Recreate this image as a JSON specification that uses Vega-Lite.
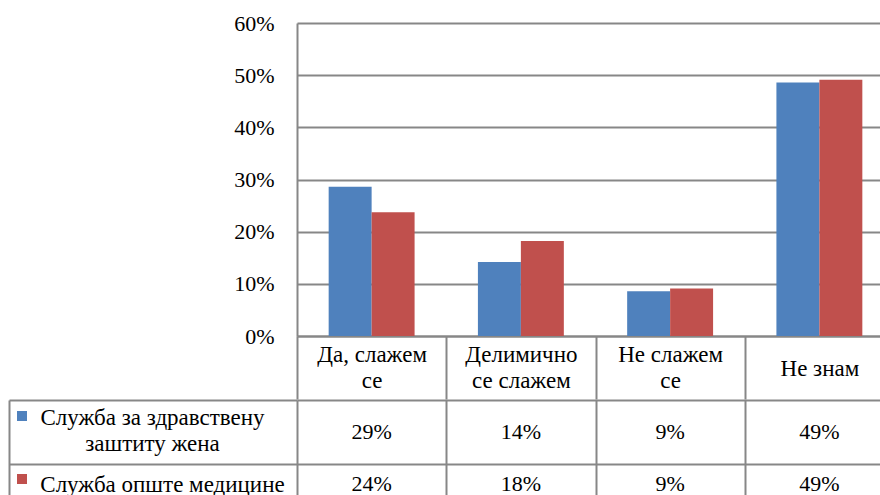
{
  "$schema": "https://vega.github.io/schema/vega-lite/v6.json",
  "padding": {"left": 8, "top": 12, "right": 0, "bottom": 0},
  "background": "white",
  "config": {
    "font": "Liberation Serif, Times New Roman, DejaVu Serif, serif",
    "view": {"stroke": null},
    "axis": {"labelFont": "Liberation Serif, Times New Roman, DejaVu Serif, serif", "labelColor": "#000000", "labelFontSize": 22, "labelOverlap": false, "labelBound": false, "labelLimit": 0}
  },
  "data": {
    "values": [
      {"category": "Да, слажем се", "series": "Служба за здравствену заштиту жена", "value": 0.286},
      {"category": "Да, слажем се", "series": "Служба опште медицине", "value": 0.237},
      {"category": "Делимично се слажем", "series": "Служба за здравствену заштиту жена", "value": 0.142},
      {"category": "Делимично се слажем", "series": "Служба опште медицине", "value": 0.182},
      {"category": "Не слажем се", "series": "Служба за здравствену заштиту жена", "value": 0.086},
      {"category": "Не слажем се", "series": "Служба опште медицине", "value": 0.091},
      {"category": "Не знам", "series": "Служба за здравствену заштиту жена", "value": 0.486},
      {"category": "Не знам", "series": "Служба опште медицине", "value": 0.491}
    ]
  },
  "spacing": -11,
  "resolve": {"scale": {"x": "independent", "y": "independent"}},
  "vconcat": [
    {
      "width": 597,
      "height": 313,
      "mark": {"type": "bar"},
      "encoding": {
        "x": {
          "field": "category", "type": "nominal",
          "sort": ["Да, слажем се", "Делимично се слажем", "Не слажем се", "Не знам"],
          "scale": {"paddingInner": 0, "paddingOuter": 0},
          "axis": {
            "orient": "bottom", "title": null, "labelAngle": 0, "labelFontSize": 23,
            "domainColor": "#878787", "domainWidth": 2,
            "ticks": true, "tickBand": "extent", "tickSize": 63, "tickColor": "#878787", "tickWidth": 2,
            "labelBaseline": "middle", "labelLineHeight": 26,
            "labelPadding": {"condition": {"test": "datum.value == 'Не знам'", "value": -31}, "value": -45},
            "labelExpr": "datum.label == 'Да, слажем се' ? ['Да, слажем', 'се'] : datum.label == 'Делимично се слажем' ? ['Делимично', 'се слажем'] : datum.label == 'Не слажем се' ? ['Не слажем', 'се'] : datum.label",
            "grid": false
          }
        },
        "xOffset": {"field": "series", "type": "nominal", "sort": ["Служба за здравствену заштиту жена", "Служба опште медицине"], "scale": {"paddingInner": 0, "paddingOuter": 0.737}},
        "y": {
          "field": "value", "type": "quantitative",
          "scale": {"domain": [0, 0.6]},
          "axis": {
            "title": null, "values": [0, 0.1, 0.2, 0.3, 0.4, 0.5, 0.6], "format": ".0%",
            "ticks": false, "labelPadding": 23,
            "domainColor": "#878787", "domainWidth": 2,
            "grid": true, "gridColor": "#878787", "gridWidth": 2
          }
        },
        "color": {
          "field": "series", "type": "nominal",
          "sort": ["Служба за здравствену заштиту жена", "Служба опште медицине"],
          "scale": {"range": ["#4F81BD", "#C0504D"]},
          "legend": {
            "orient": "none", "legendX": -280, "legendY": 388, "direction": "vertical",
            "title": null, "symbolType": "square", "symbolSize": 100, "symbolStrokeWidth": 0,
            "labelExpr": "''", "labelFontSize": 10, "rowPadding": 53
          }
        }
      }
    },
    {
      "width": 597,
      "height": 128,
      "encoding": {
        "x": {
          "field": "category", "type": "nominal",
          "sort": ["Да, слажем се", "Делимично се слажем", "Не слажем се", "Не знам"],
          "scale": {"paddingInner": 0, "paddingOuter": 0},
          "axis": {"orient": "bottom", "title": null, "labels": false, "ticks": false, "domain": false, "grid": true, "tickBand": "extent", "gridColor": "#878787", "gridWidth": 2}
        },
        "y": {
          "field": "series", "type": "nominal",
          "sort": ["Служба за здравствену заштиту жена", "Служба опште медицине"],
          "scale": {"paddingInner": 0, "paddingOuter": 0},
          "axis": {
            "title": null, "offset": 288, "labelFontSize": 23,
            "domainColor": "#878787", "domainWidth": 2,
            "ticks": true, "tickBand": "extent", "tickSize": -288, "tickColor": "#878787", "tickWidth": 2,
            "grid": true, "gridColor": "#878787", "gridWidth": 2,
            "labelAlign": "center", "labelBaseline": "middle", "labelLineHeight": 26,
            "labelPadding": {"condition": {"test": "datum.value == 'Служба опште медицине'", "value": 135}, "value": 145},
            "labelOffset": {"condition": {"test": "datum.value == 'Служба опште медицине'", "value": -12}, "value": -15},
            "labelExpr": "datum.label == 'Служба за здравствену заштиту жена' ? ['Служба за здравствену', 'заштиту жена'] : datum.label"
          }
        },
        "text": {"field": "value", "type": "quantitative", "format": ".0%"}
      },
      "layer": [
        {
          "transform": [{"filter": "datum.series == 'Служба за здравствену заштиту жена'"}],
          "mark": {"type": "text", "fontSize": 22, "baseline": "middle", "color": "#000000", "font": "Liberation Serif, Times New Roman, DejaVu Serif, serif"}
        },
        {
          "transform": [{"filter": "datum.series == 'Служба опште медицине'"}],
          "mark": {"type": "text", "fontSize": 22, "baseline": "middle", "dy": -12, "color": "#000000", "font": "Liberation Serif, Times New Roman, DejaVu Serif, serif"}
        }
      ]
    }
  ]
}
